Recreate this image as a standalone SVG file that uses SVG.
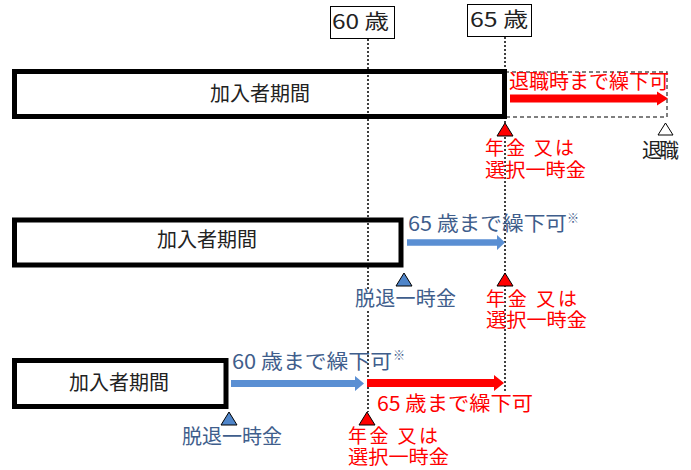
<svg xmlns="http://www.w3.org/2000/svg" width="691" height="470" viewBox="0 0 691 470">
<style>
text{font-family:"Noto Sans CJK JP","Noto Sans CJK SC",sans-serif;font-size:20px}
.blk{fill:#222}
.red{fill:#ff0000}
.blu{fill:#3f5e8c}
.sup{font-size:12px}
.pen{font-size:19px}
.period{fill:none;stroke:#000;stroke-width:5}
.age{fill:#fff;stroke:#000;stroke-width:1}
.vline{stroke:#000;stroke-width:1.5;stroke-dasharray:2 2;fill:none}
.dash{fill:none;stroke:#555;stroke-width:1.5;stroke-dasharray:4 3}
.tri-r{fill:#ff0000;stroke:#000;stroke-width:1}
.tri-b{fill:#4f85c9;stroke:#000;stroke-width:1}
.tri-w{fill:#fff;stroke:#000;stroke-width:1}
.arr-r{fill:#ff0000}
.arr-b{fill:#5a8fd3}
</style>
<rect width="691" height="470" fill="#fff"/>
<g id="connectors">
<line class="vline" x1="368" y1="39" x2="368" y2="412"/>
<line class="vline" x1="505" y1="37" x2="505" y2="392"/>
<rect class="dash" x="505" y="72" width="162" height="45"/>
<polygon class="arr-r" points="510,94.5 657,94.5 657,91.5 668,98.5 657,105.5 657,102.5 510,102.5"/>
<polygon class="arr-b" points="407,239.3 497,239.3 497,235 505,242.5 497,250 497,245.7 407,245.7"/>
<polygon class="arr-b" points="231,380 355,380 355,376 364,383.5 355,391 355,387 231,387"/>
<polygon class="arr-r" points="367,379 494,379 494,375 504,383 494,391 494,387 367,387"/>
</g>
<g id="age60">
<rect class="age" x="330.5" y="6.5" width="64" height="32"/>
<text class="blk" x="332" y="29" textLength="57" lengthAdjust="spacingAndGlyphs">60 歳</text>
</g>
<g id="age65">
<rect class="age" x="467.5" y="4.5" width="64" height="32"/>
<text class="blk" x="470" y="27" textLength="58" lengthAdjust="spacingAndGlyphs">65 歳</text>
</g>
<g id="row1-period">
<rect class="period" x="14.5" y="71.5" width="490" height="45"/>
<text class="blk" x="260" y="101" text-anchor="middle">加入者期間</text>
</g>
<g id="row1-defer">
<text class="red" x="509" y="89" textLength="160" lengthAdjust="spacingAndGlyphs">退職時まで繰下可</text>
</g>
<g id="row1-pension">
<polygon class="tri-r" points="505,123 497,136 513,136"/>
<text class="red pen" x="485" y="155" textLength="89" lengthAdjust="spacing">年金 又は</text>
<text class="red pen" x="485" y="177" textLength="101" lengthAdjust="spacingAndGlyphs">選択一時金</text>
</g>
<g id="row1-retire">
<polygon class="tri-w" points="665.5,123 658,135 673,135"/>
<text class="blk" x="642" y="158" font-size="19" textLength="37">退職</text>
</g>
<g id="row2-period">
<rect class="period" x="14.5" y="220" width="386.5" height="45"/>
<text class="blk" x="207" y="247" text-anchor="middle">加入者期間</text>
</g>
<g id="row2-defer">
<text class="blu" x="408" y="231" textLength="159" lengthAdjust="spacingAndGlyphs">65 歳まで繰下可</text>
<text class="blu sup" x="567" y="223">※</text>
</g>
<g id="row2-lump">
<polygon class="tri-b" points="404,273 396,286 412,286"/>
<rect x="354" y="289" width="104" height="22" fill="#fff"/>
<text class="blu" x="355" y="306" textLength="101">脱退一時金</text>
</g>
<g id="row2-pension">
<polygon class="tri-r" points="505,273 497,286 513,286"/>
<text class="red pen" x="486" y="306" textLength="91" lengthAdjust="spacing">年金 又は</text>
<text class="red pen" x="486" y="327" textLength="101" lengthAdjust="spacingAndGlyphs">選択一時金</text>
</g>
<g id="row3-period">
<rect class="period" x="14.5" y="360.5" width="211.5" height="46"/>
<text class="blk" x="119" y="390" text-anchor="middle">加入者期間</text>
</g>
<g id="row3-defer60">
<text class="blu" x="232" y="369" textLength="160" lengthAdjust="spacingAndGlyphs">60 歳まで繰下可</text>
<text class="blu sup" x="393" y="360">※</text>
</g>
<g id="row3-defer65">
<text class="red" x="377" y="411" textLength="156" lengthAdjust="spacingAndGlyphs">65 歳まで繰下可</text>
</g>
<g id="row3-lump">
<polygon class="tri-b" points="229,412 221,425 237,425"/>
<text class="blu" x="182" y="444" textLength="100">脱退一時金</text>
</g>
<g id="row3-pension">
<polygon class="tri-r" points="367,412 359,425 375,425"/>
<text class="red pen" x="348" y="443" textLength="90" lengthAdjust="spacing">年金 又は</text>
<text class="red pen" x="348" y="464" textLength="101" lengthAdjust="spacingAndGlyphs">選択一時金</text>
</g>
</svg>
